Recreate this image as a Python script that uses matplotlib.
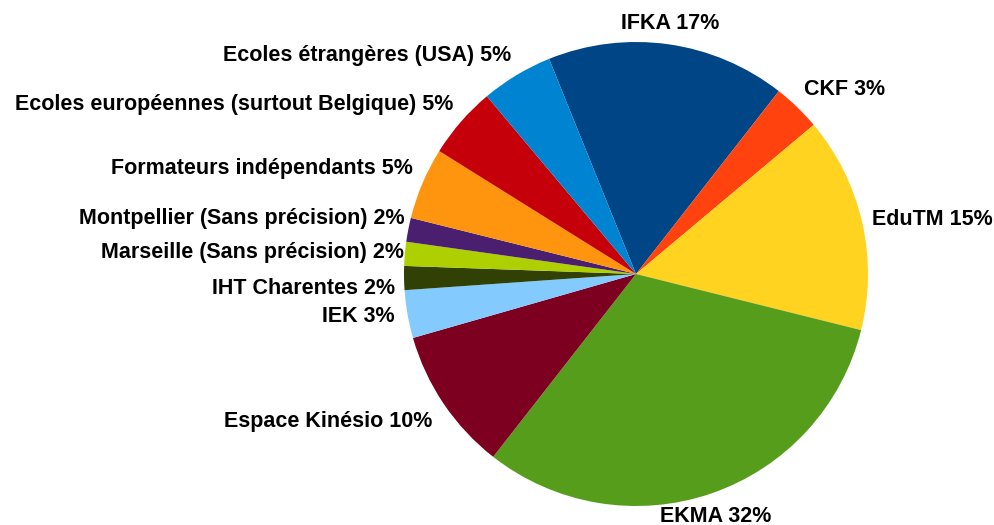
import numpy as np
import matplotlib
matplotlib.use("Agg")
import matplotlib.pyplot as plt

# counts per training origin (60 answers)
labels = ["IFKA", "CKF", "EduTM", "EKMA", "Espace Kinésio", "IEK",
          "IHT Charentes", "Marseille (Sans précision)", "Montpellier (Sans précision)",
          "Formateurs indépendants", "Ecoles européennes (surtout Belgique)",
          "Ecoles étrangères (USA)"]
counts = [10, 2, 9, 19, 6, 2, 1, 1, 1, 3, 3, 3]
colors = ["#004586", "#ff420e", "#ffd320", "#579d1c", "#7e0021", "#83caff",
          "#314004", "#aecf00", "#4b1f6f", "#ff950e", "#c5000b", "#0084d1"]

plt.rcParams['font.family'] = ['Liberation Sans', 'DejaVu Sans']

fig = plt.figure(figsize=(9.94, 5.25), dpi=100)
W, H = 994, 525
cx, cy, r = 636, 274, 232
ax = fig.add_axes([(cx - r) / W, (H - cy - r) / H, 2 * r / W, 2 * r / H])

wedges, _ = ax.pie(counts, colors=colors, startangle=112, counterclock=False,
                   radius=1, wedgeprops=dict(linewidth=0))
ax.set_xlim(-1, 1)
ax.set_ylim(-1, 1)

total = sum(counts)
# small nudges (dx, dy) for the crowded labels on the left
nudge = {"IHT Charentes": (0.02, -0.045),
         "Marseille (Sans précision)": (0.04, 0.0),
         "Montpellier (Sans précision)": (0.03, 0.04)}
for w, lab, c in zip(wedges, labels, counts):
    ang = np.deg2rad((w.theta1 + w.theta2) / 2)
    x, y = np.cos(ang), np.sin(ang)
    R = 1.045 if y > 0 else 1.057
    dx, dy = nudge.get(lab, (0, 0))
    tx, ty = R * x + dx, R * y + dy
    if abs(x) < 0.35:
        ha = 'center'
    else:
        ha = 'left' if x > 0 else 'right'
    if y > 0.3:
        va = 'bottom'
    elif y < -0.3:
        va = 'top'
    else:
        va = 'center'
    pct = round(100 * c / total)
    ax.text(tx, ty, f"{lab} {pct}%", ha=ha, va=va, fontsize=15.5,
            fontweight='bold', color='#000000')

fig.savefig("out.png", dpi=100)
